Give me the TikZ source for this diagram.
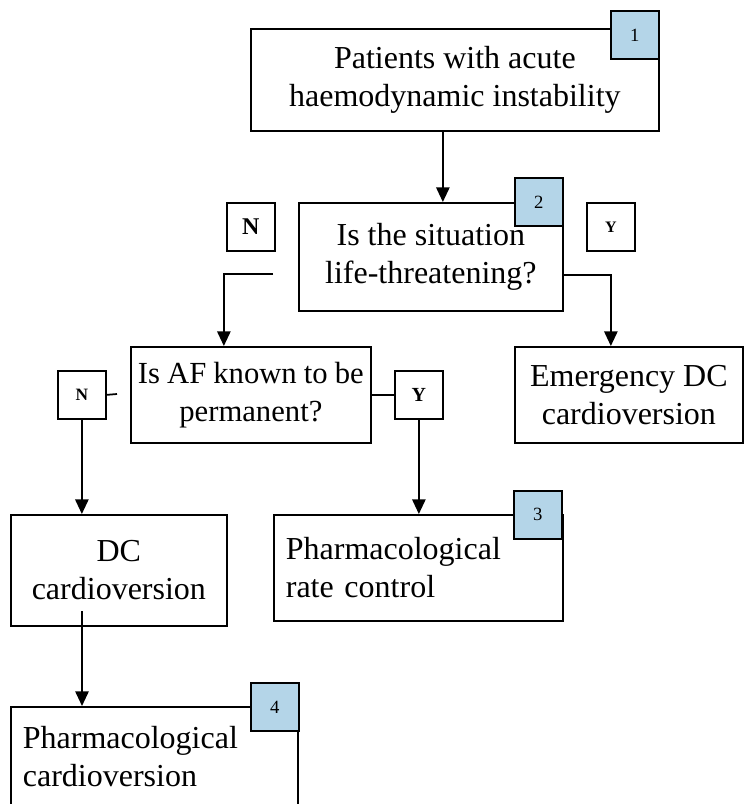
\documentclass[tikz,border=0pt]{standalone}
\usepackage{fontspec}
\setmainfont{Liberation Serif}
\usepackage{xcolor}
\usetikzlibrary{arrows.meta,positioning,calc}
\definecolor{tagblue}{RGB}{180,213,232}

\begin{document}
\begin{tikzpicture}[x=0.75pt,y=-0.75pt,line width=1.3pt,
  box/.style={draw,rectangle,anchor=north west,align=center,inner sep=2pt,
    font=\fontsize{24}{28.5}\selectfont},
  lbox/.style={box,align=left,inner xsep=9pt},
  tag/.style={draw,fill=tagblue,anchor=north west,minimum width=36pt,
    minimum height=36pt,inner sep=0pt,font=\fontsize{14}{16}\selectfont},
  yn/.style={draw,anchor=north west,minimum width=36pt,minimum height=36pt,
    inner sep=0pt},
  arr/.style={-{Triangle[length=11pt,width=10pt]}}]
\useasboundingbox (0,0) rectangle (745,804);
% boxes
\node[box,minimum width=306pt,minimum height=76.5pt] (start) at (250,28)
  {Patients with acute\\haemodynamic instability};
\node[box,minimum width=198pt,minimum height=81pt] (q1) at (298,202)
  {Is the situation\\life-threatening?};
\node[box,font={\fontsize{23}{28.5}\selectfont\spaceskip=0.23em\relax},
  minimum width=180pt,minimum height=72pt] (q2) at (130,346)
  {Is AF known to be\\permanent?};
\node[box,minimum width=171pt,minimum height=72pt] (emer) at (514,346)
  {Emergency DC\\cardioversion};
\node[box,minimum width=162pt,minimum height=83.25pt] (dc) at (10,514)
  {DC\\cardioversion};
\node[lbox,text width=198.75pt,minimum height=79.5pt] (rate) at (273,514)
  {Pharmacological\\rate control};
\node[lbox,text width=197.25pt,minimum height=75pt] (pharm) at (10,706)
  {Pharmacological\\cardioversion};
% numbers
\node[tag] (t1) at (610,10) {1};
\node[tag] (t2) at (514,177) {2};
\node[tag] (t3) at (513,490) {3};
\node[tag] (t4) at (250,682) {4};
% yes / no
\node[yn,font=\fontsize{18}{20}\selectfont\bfseries] (n1) at (226,202) {N};
\node[yn,font=\fontsize{12}{14}\selectfont\bfseries] (y1) at (586,202) {Y};
\node[yn,font=\fontsize{13}{15}\selectfont\bfseries] (n2) at (57,370) {N};
\node[yn,font=\fontsize{15}{17}\selectfont\bfseries] (y2) at (394,370) {Y};
% connectors
\coordinate (nend) at (273,274);
\coordinate (nstub) at (117,394);
\coordinate (dcin) at (82,611);
\draw[arr] ([xshift=-9pt]start.south) -- ([xshift=-9pt]start.south |- q1.north);
\draw[arr] (nend) -| ([xshift=-20.25pt]q2.north);
\draw[arr] ([yshift=-13.5pt]q1.east) -| ([xshift=-13.5pt]emer.north);
\draw (n2.east) -- (nstub);
\draw (q2.east) -- (y2.west);
\draw[arr] (n2.south) -- (n2.south |- dc.north);
\draw[arr] (y2.south) -- (y2.south |- rate.north);
\draw[arr] (dcin) -- (dcin |- pharm.north);
\end{tikzpicture}
\end{document}
